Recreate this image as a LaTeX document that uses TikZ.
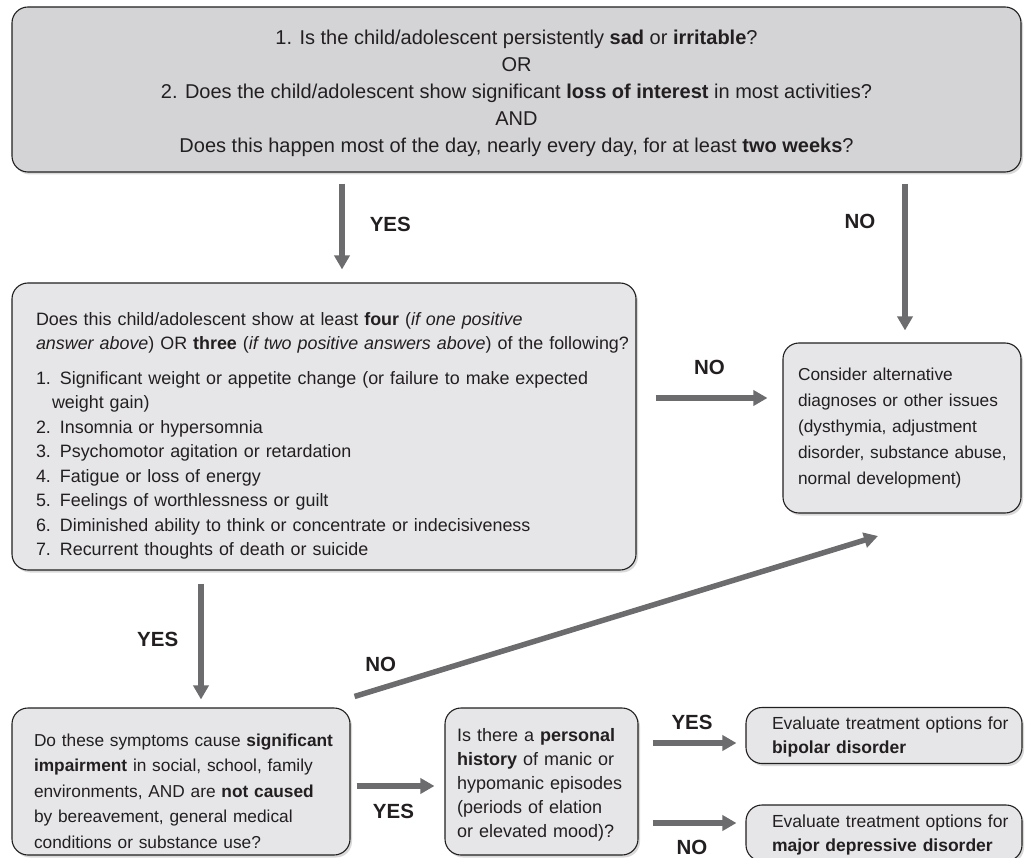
\documentclass[tikz,border=0pt]{standalone}
\usepackage{fontspec}
\setmainfont{Liberation Sans}
\usetikzlibrary{arrows.meta,positioning,shadows}
\definecolor{boxdark}{RGB}{212,212,214}
\definecolor{boxlight}{RGB}{230,230,232}
\definecolor{arrowgrey}{RGB}{108,108,110}
\definecolor{inkblack}{RGB}{35,31,32}
\tikzset{
  box/.style={draw=inkblack, line width=1.1pt, rounded corners=16pt,
    fill=boxlight, text=inkblack, font=\fontsize{17.3}{25.5}\selectfont,
    drop shadow={shadow xshift=2pt, shadow yshift=-2.5pt, fill=black, opacity=0.15}},
  flow/.style={draw=arrowgrey, line width=5.5pt,
    -{Triangle[length=14pt,width=15pt]}},
  answer/.style={text=inkblack, inner sep=0pt, font=\fontsize{20.5}{20.5}\selectfont\bfseries}
}
\begin{document}
\begin{tikzpicture}[x=1pt, y=-1pt]
  \useasboundingbox (0,0) rectangle (1027,858);
  % questions and outcomes
  \node[box, fill=boxdark, minimum width=1009pt, minimum height=165pt,
    align=center, font=\fontsize{20}{27}\selectfont] (mood) at (516.5,89.5)
    {\rule{0pt}{22pt}1. Is the child/adolescent persistently \textbf{sad} or \textbf{irritable}?\\
     OR\\
     2. Does the child/adolescent show significant \textbf{loss of interest} in most activities?\\
     AND\\
     Does this happen most of the day, nearly every day, for at least \textbf{two weeks}?};
  \node[box, minimum height=287pt, inner xsep=24pt, text width=576pt, align=left,
    font=\fontsize{17.9}{24.5}\selectfont] (symp) at (324,426.5)
    {\rule{0pt}{32pt}Does this child/adolescent show at least \textbf{four} (\textit{if one positive}\\
     \mbox{\textit{answer above}) OR \textbf{three} (\textit{if two positive answers above}) of the following?}\\[10pt]
     \mbox{1. Significant weight or appetite change (or failure to make expected}\\
     \hspace*{16pt}weight gain)\\
     2. Insomnia or hypersomnia\\
     3. Psychomotor agitation or retardation\\
     4. Fatigue or loss of energy\\
     5. Feelings of worthlessness or guilt\\
     6. Diminished ability to think or concentrate or indecisiveness\\
     7. Recurrent thoughts of death or suicide};
  \node[box, minimum height=170pt, inner xsep=15pt, text width=208pt, align=left,
    font=\fontsize{17.3}{26}\selectfont] (alt) at (902,428)
    {Consider alternative\\ diagnoses or other issues\\ (dysthymia, adjustment\\
     \mbox{disorder, substance abuse,}\\ normal development)};
  \node[box, minimum height=147pt, inner xsep=22pt, text width=294pt, align=left]
    (impair) at (181,781.5)
    {\rule{0pt}{32pt}\mbox{Do these symptoms cause \textbf{significant}}\\ \textbf{impairment} in social, school, family\\
     environments, AND are \textbf{not caused}\\ by bereavement, general medical\\
     conditions or substance use?};
  \node[box, minimum height=147pt, minimum width=193pt, inner xsep=12pt, text width=169pt,
    align=left, font=\fontsize{18}{24}\selectfont] (mania) at (541.5,781.5)
    {\rule{0pt}{20pt}Is there a \textbf{personal}\\ \textbf{history} of manic or\\ \mbox{hypomanic episodes}\\
     (periods of elation\\ or elevated mood)?};
  \node[box, minimum height=56pt, inner xsep=26pt, text width=224pt, align=left,
    font=\fontsize{17.5}{24}\selectfont] (bipolar) at (884,735.5)
    {\rule{0pt}{16pt}\mbox{Evaluate treatment options for}\\ \textbf{bipolar disorder}};
  \node[box, minimum height=56pt, inner xsep=26pt, text width=224pt, align=left,
    font=\fontsize{17.5}{24}\selectfont] (mdd) at (884,833)
    {\rule{0pt}{16pt}\mbox{Evaluate treatment options for}\\ \mbox{\textbf{major depressive disorder}}};
  % connectors
  \coordinate (noend) at (878,536);
  \draw[flow, shorten <=11pt, shorten >=13pt] (mood.south -| 342,0) -- (symp.north -| 342,0)
    node[answer, midway, right=25pt, yshift=3pt] {YES};
  \draw[flow, shorten <=11pt, shorten >=12pt] (mood.south -| 905,0) -- (alt.north -| 905,0)
    node[answer, pos=0.29, left=27pt] {NO};
  \draw[flow, shorten <=19pt, shorten >=15pt] (symp.east |- 0,398) -- (alt.west |- 0,398)
    node[answer, midway, above=21pt] {NO};
  \draw[flow, shorten <=13pt, shorten >=8pt] (symp.south -| 201,0) -- (impair.north -| 201,0)
    node[answer, midway, left=20pt] {YES};
  \draw[flow] ([shift={(4pt,11pt)}]impair.north east) -- (noend)
    node[answer, pos=0.05, above=14pt] {NO};
  \draw[flow, shorten <=6pt, shorten >=10pt] (impair.east |- 0,786) -- (mania.west |- 0,786)
    node[answer, midway, below=15pt, xshift=-4pt] {YES};
  \draw[flow, shorten <=14pt, shorten >=9pt] (mania.east |- 0,743) -- (bipolar.west |- 0,743)
    node[answer, midway, above=11pt] {YES};
  \draw[flow, shorten <=14pt, shorten >=9pt] (mania.east |- 0,823) -- (mdd.west |- 0,823)
    node[answer, midway, below=14pt] {NO};
\end{tikzpicture}
\end{document}
